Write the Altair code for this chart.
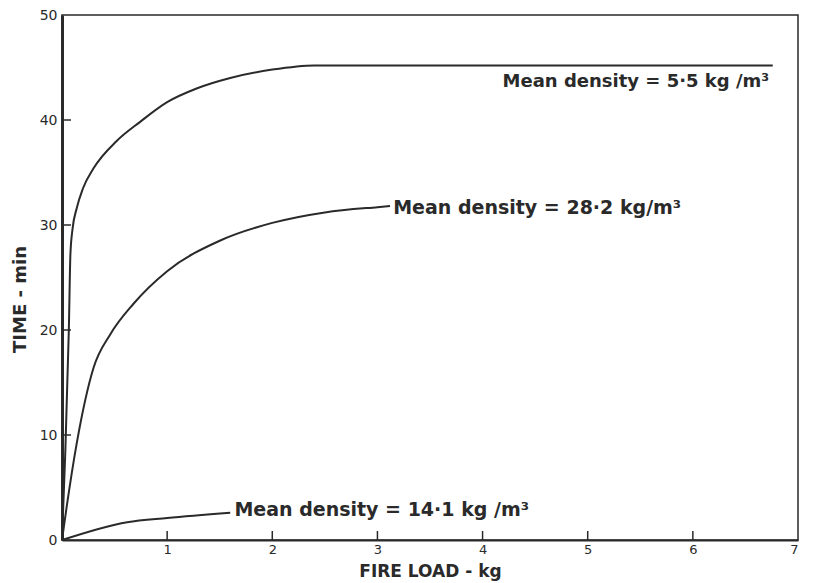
import altair as alt
import pandas as pd

# Series (x = fire load kg, y = time min)
x_55 = [0, 0.03, 0.065, 0.08, 0.10, 0.14, 0.20, 0.30, 0.52, 0.74, 1.0, 1.28, 1.6, 2.0, 2.4, 3.0, 4.0, 5.0, 6.0, 6.76]
y_55 = [0, 8.0, 20.0, 27.2, 29.6, 31.6, 33.5, 35.4, 38.0, 39.8, 41.7, 43.0, 44.0, 44.8, 45.2, 45.2, 45.2, 45.2, 45.2, 45.2]

x_282 = [0, 0.045, 0.14, 0.30, 0.46, 0.68, 1.0, 1.5, 2.0, 2.5, 3.0, 3.12]
y_282 = [0, 3.2, 9.2, 16.4, 19.6, 22.5, 25.6, 28.5, 30.2, 31.2, 31.7, 31.8]

x_141 = [0, 0.62, 1.0, 1.6]
y_141 = [0, 1.7, 2.1, 2.6]

labels = ["Mean density = 5·5 kg /m³", "Mean density = 28·2 kg/m³", "Mean density = 14·1 kg /m³"]
label_x = [4.19, 3.15, 1.64]
label_y = [43.6, 31.6, 2.9]

x_ticks = [1, 2, 3, 4, 5, 6, 7]
y_ticks = [0, 10, 20, 30, 40, 50]

rows = []
for name, xs, ys in [("5.5", x_55, y_55), ("28.2", x_282, y_282), ("14.1", x_141, y_141)]:
    for i, (a, b) in enumerate(zip(xs, ys)):
        rows.append({"series": name, "load": a, "time": b, "order": i})
df = pd.DataFrame(rows)

W, H = 736, 525
FONT = "DejaVu Sans"
INK = "#2a2a2a"

xscale = alt.Scale(domain=[0, 7], nice=False, zero=True)
yscale = alt.Scale(domain=[0, 50], nice=False)

lines = alt.Chart(df).mark_line(color=INK, strokeWidth=2, interpolate="monotone").encode(
    x=alt.X("load:Q", scale=xscale,
            axis=alt.Axis(values=x_ticks, format="d", title="FIRE LOAD - kg", tickSize=0, labelPadding=3,
                          labelFont=FONT, labelFontSize=13, labelColor=INK, grid=False,
                          domainColor=INK, domainWidth=2,
                          titleFont=FONT, titleFontSize=17, titleFontWeight="bold", titleColor=INK,
                          titleX=368, titleY=36, titleBaseline="alphabetic")),
    y=alt.Y("time:Q", scale=yscale,
            axis=alt.Axis(values=y_ticks, format="d", title="TIME - min", tickSize=0, labelPadding=5,
                          labelFont=FONT, labelFontSize=14, labelColor=INK, grid=False,
                          domainColor=INK, domainWidth=3,
                          titleFont=FONT, titleFontSize=18, titleFontWeight="bold", titleColor=INK,
                          titleAngle=-90, titleX=-42, titleY=284, titleAlign="center",
                          titleBaseline="middle")),
    detail="series:N",
    order="order:Q",
)

xt = pd.DataFrame({"v": x_ticks[:-1]})
yt = pd.DataFrame({"v": y_ticks[1:-1]})
xtick_marks = alt.Chart(xt).mark_rule(color=INK, strokeWidth=1.5).encode(
    x=alt.X("v:Q", scale=xscale), y=alt.value(H), y2=alt.value(H - 9))
ytick_marks = alt.Chart(yt).mark_rule(color=INK, strokeWidth=1.5).encode(
    y=alt.Y("v:Q", scale=yscale), x=alt.value(2), x2=alt.value(9))

sizes = [18, 19, 19]
texts = []
for i in range(3):
    t = pd.DataFrame({"x": [label_x[i]], "y": [label_y[i]], "t": [labels[i]]})
    texts.append(alt.Chart(t).mark_text(align="left", baseline="middle", font=FONT,
                                        fontSize=sizes[i], fontWeight="bold", color=INK).encode(
        x=alt.X("x:Q", scale=xscale), y=alt.Y("y:Q", scale=yscale), text="t:N"))

chart = alt.layer(lines, xtick_marks, ytick_marks, *texts).properties(
    width=W, height=H,
    autosize=alt.AutoSizeParams(type="none"),
    padding={"left": 54, "top": 7, "right": 8, "bottom": 42},
    background="white",
).configure_view(stroke=INK, strokeWidth=1.5, strokeOpacity=1)

chart.save("out.html", embed_options={"renderer": "svg", "actions": False})
